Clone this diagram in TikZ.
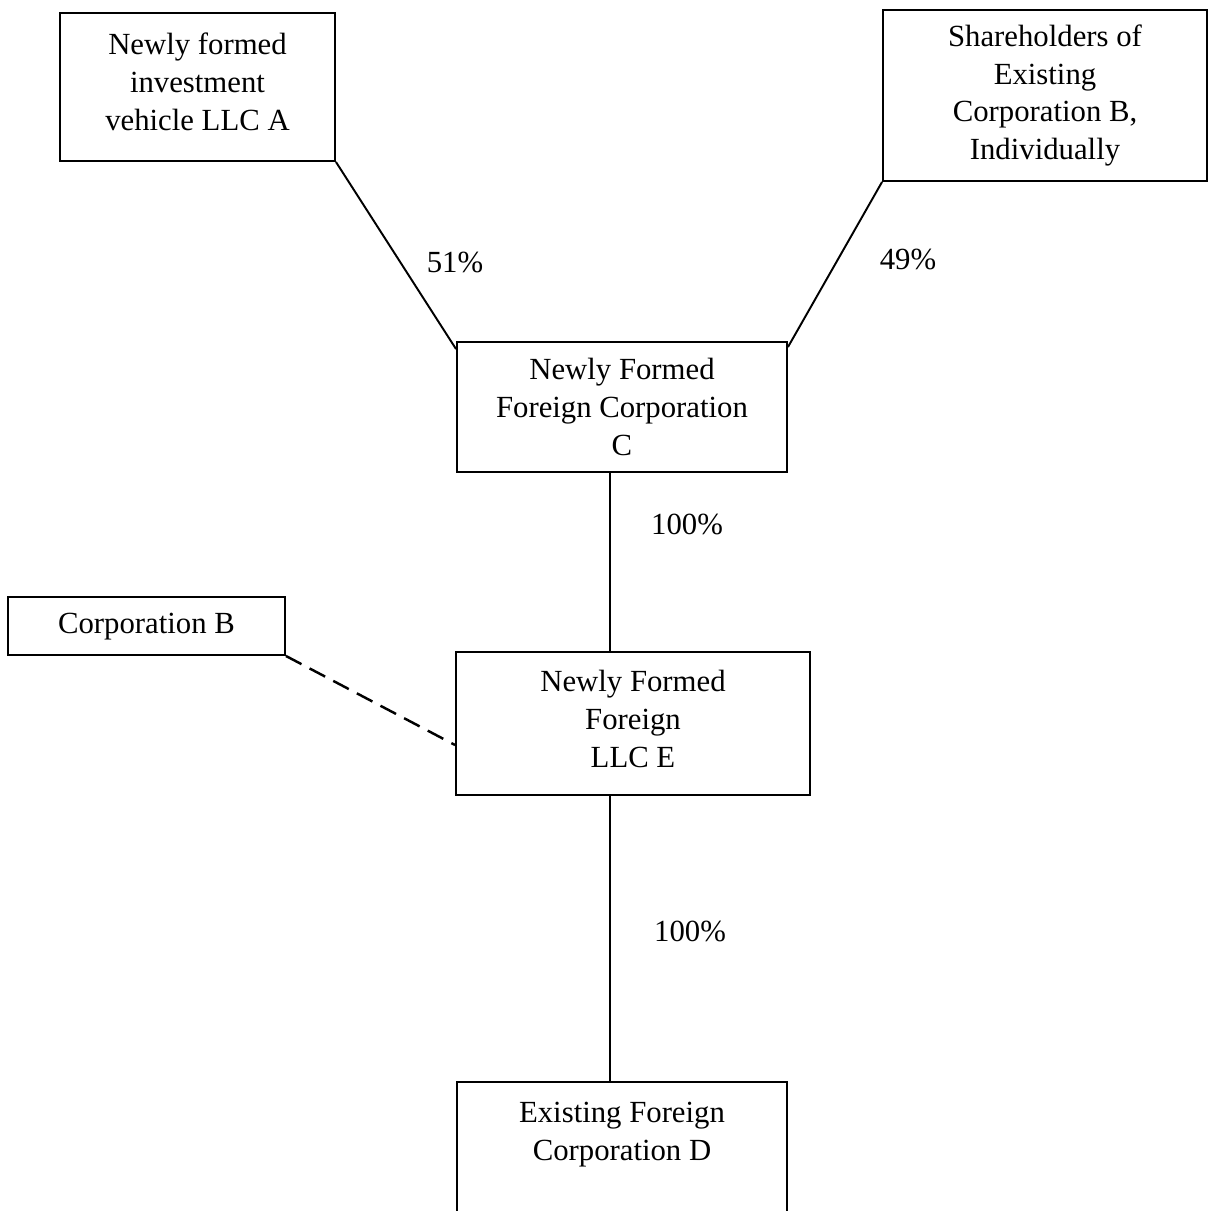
\documentclass[tikz,border=0pt]{standalone}
\usepackage{fontspec}
\setmainfont{Liberation Serif}
\usetikzlibrary{calc}
\begin{document}
\begin{tikzpicture}[x=0.02cm,y=-0.02cm,
  box/.style={draw,line width=1.1pt,align=center,inner sep=0pt,
    font=\fontsize{17.5}{21.6}\selectfont},
  lbl/.style={font=\fontsize{17.5}{21.6}\selectfont,inner sep=0pt},
  conn/.style={line width=1.1pt}]
\useasboundingbox (0,0) rectangle (1209,1211);
\node[box,minimum width=275*0.02cm,minimum height=148*0.02cm] (A) at (197.5,87)
  {Newly formed\\investment\\vehicle LLC A\rule[-5.6pt]{0pt}{1pt}};
\node[box,minimum width=324*0.02cm,minimum height=171*0.02cm] (S) at (1045,95.5)
  {Shareholders of\\Existing\\Corporation B,\\Individually};
\node[box,minimum width=330*0.02cm,minimum height=130*0.02cm] (C) at (622,407)
  {Newly Formed\\Foreign Corporation\\C};
\node[box,minimum width=277*0.02cm,minimum height=58*0.02cm] (B) at (146.5,626)
  {\strut Corporation B};
\node[box,minimum width=354*0.02cm,minimum height=143*0.02cm] (E) at (633,723.5)
  {Newly Formed\\Foreign\\LLC E\rule[-5.6pt]{0pt}{1pt}};
\node[box,minimum width=330*0.02cm,minimum height=140*0.02cm] (D) at (622,1152)
  {Existing Foreign\\Corporation D\\[-4pt]\strut};
\coordinate (Cl) at ($(C.north west)+(0,8)$);
\coordinate (Cr) at ($(C.north east)+(0,6)$);
\draw[conn] (A.south east) -- (Cl);
\draw[conn] (S.south west) -- (Cr);
\draw[conn] (C.south -| 610,0) -- (E.north -| 610,0);
\draw[conn] (E.south -| 610,0) -- (D.north -| 610,0);
\coordinate (Ew) at (E.west |- 0,745);
\draw[line width=1.4pt,dash pattern=on 10pt off 5.2pt] (B.south east) -- (Ew);
\node[lbl] (l51) at (455,262) {51\%};
\node[lbl] (l49) at (908,259) {49\%};
\node[lbl] (l100a) at (687,524) {100\%};
\node[lbl] (l100b) at (690,931) {100\%};
\end{tikzpicture}
\end{document}
